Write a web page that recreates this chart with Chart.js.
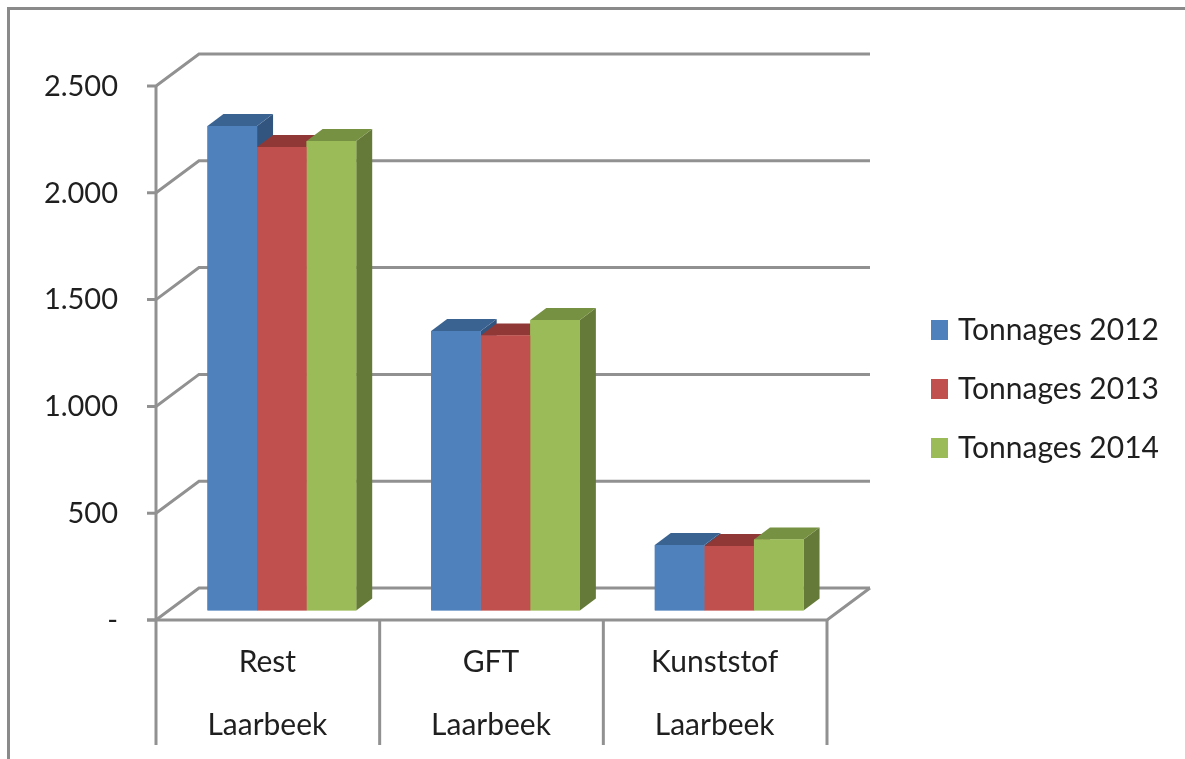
<!DOCTYPE html>
<html lang="nl">
<head>
    <meta charset="UTF-8">
    <script src="https://cdn.jsdelivr.net/npm/chart.js"></script>
    <title>Tonnages Laarbeek</title>
    <style>
        html, body { margin: 0; padding: 0; background: #fff; overflow: hidden; }
        .frame {
            position: absolute;
            left: 7px; top: 7px; right: 0; bottom: 0;
            border-left: 3px solid #8a8a8a;
            border-top: 3px solid #8a8a8a;
        }
        canvas { position: absolute; left: 0; top: 0; }
    </style>
</head>
<body>
<div class="frame"></div>
<canvas id="tonnages" width="1185" height="759"></canvas>

<script>
    const categories = [['Rest', 'Laarbeek'], ['GFT', 'Laarbeek'], ['Kunststof', 'Laarbeek']];
    const tonnages2012 = [2268, 1308, 307];
    const tonnages2013 = [2170, 1287, 302];
    const tonnages2014 = [2198, 1360, 332];
    const yTickLabels = ['-', '500', '1.000', '1.500', '2.000', '2.500'];

    const FONT = 'Lato, "Noto Sans", sans-serif';
    const GRID = '#919191';
    const FRONT = { dx: -14, dy: 9.5 };   // axis plane relative to the bars
    const WALL = { dx: 43, dy: -32 };     // back wall relative to the axis plane
    const BAR = { dx: 16, dy: -12 };      // depth of a bar

    function line(ctx, pts) {
        ctx.beginPath();
        pts.forEach((p, i) => i ? ctx.lineTo(p[0], p[1]) : ctx.moveTo(p[0], p[1]));
        ctx.stroke();
    }
    function poly(ctx, color, pts) {
        ctx.fillStyle = color;
        ctx.beginPath();
        pts.forEach((p, i) => i ? ctx.lineTo(p[0], p[1]) : ctx.moveTo(p[0], p[1]));
        ctx.closePath();
        ctx.fill();
    }

    // walls, floor and axis lines of the fake 3d box, then the bar sides
    const box3d = {
        id: 'box3d',
        beforeDatasetsDraw(chart) {
            const { ctx, chartArea, scales: { y } } = chart;
            const left = chartArea.left + FRONT.dx;
            const right = chartArea.right + FRONT.dx;
            const zero = y.getPixelForValue(0) + FRONT.dy;
            const bottom = 745;
            ctx.save();
            ctx.strokeStyle = GRID;
            ctx.lineWidth = 3;
            y.ticks.forEach(t => {
                const py = y.getPixelForValue(t.value) + FRONT.dy;
                line(ctx, [[left - 9, py], [left, py], [left + WALL.dx, py + WALL.dy], [right + WALL.dx, py + WALL.dy]]);
            });
            line(ctx, [[left - 9, zero], [right, zero], [right + WALL.dx, zero + WALL.dy]]);
            line(ctx, [[left, y.getPixelForValue(2500) + FRONT.dy], [left, bottom]]);
            const step = (right - left) / categories.length;
            categories.forEach((c, i) => {
                const px = left + step * (i + 1);
                line(ctx, [[px, zero], [px, bottom]]);
            });
            ctx.restore();

            // left to right, each front face has to cover the side of the bar before it
            chart.data.datasets.forEach((ds, i) => {
                chart.getDatasetMeta(i).data.forEach(bar => {
                    const l = bar.x - bar.width / 2;
                    const r = bar.x + bar.width / 2;
                    poly(ctx, ds.sideColor, [[r, bar.y], [r + BAR.dx, bar.y + BAR.dy], [r + BAR.dx, bar.base + BAR.dy], [r, bar.base]]);
                    poly(ctx, ds.topColor, [[l, bar.y], [l + BAR.dx, bar.y + BAR.dy], [r + BAR.dx, bar.y + BAR.dy], [r, bar.y]]);
                    bar.draw(ctx);
                });
            });
        },
        afterLayout(chart) {
            const lg = chart.legend;
            lg.left = 907;
            lg.right = 1185;
            lg.top = 286;
            lg.bottom = 500;
        }
    };

    new Chart(document.getElementById('tonnages'), {
        type: 'bar',
        data: {
            labels: categories,
            datasets: [
                { label: 'Tonnages 2012', data: tonnages2012, backgroundColor: '#4f81bd', topColor: '#3b6391', sideColor: '#32557f' },
                { label: 'Tonnages 2013', data: tonnages2013, backgroundColor: '#c0504d', topColor: '#8f3836', sideColor: '#7f2f2d' },
                { label: 'Tonnages 2014', data: tonnages2014, backgroundColor: '#9bbb59', topColor: '#779142', sideColor: '#657a38' }
            ]
        },
        plugins: [box3d],
        options: {
            responsive: false,
            animation: false,
            categoryPercentage: 0.665,
            barPercentage: 1,
            layout: { padding: { top: 76.5, right: 344, left: 0, bottom: 0 } },
            scales: {
                x: {
                    grid: { display: false, drawTicks: false },
                    border: { display: false },
                    afterFit(scale) { scale.height = 148.5; },
                    ticks: {
                        color: '#1f1f1f',
                        font: { family: FONT, size: 30, lineHeight: 2.1 },
                        padding: 20,
                        labelOffset: -14.5,
                        maxRotation: 0
                    }
                },
                y: {
                    min: 0,
                    max: 2500,
                    grid: { display: false, drawTicks: false },
                    border: { display: false },
                    afterFit(scale) { scale.width = 170; },
                    ticks: {
                        stepSize: 500,
                        color: '#1f1f1f',
                        font: { family: FONT, size: 29 },
                        padding: 52,
                        labelOffset: 10,
                        callback: (v, i) => yTickLabels[i]
                    }
                }
            },
            plugins: {
                tooltip: { enabled: false },
                legend: {
                    position: 'chartArea',
                    align: 'start',
                    labels: {
                        color: '#1f1f1f',
                        font: { family: FONT, size: 30 },
                        boxWidth: 7,
                        boxHeight: 10,
                        padding: 29,
                        // thick stroke brings the swatch to size while keeping the text close
                        generateLabels(chart) {
                            return chart.data.datasets.map((ds, i) => ({
                                text: ds.label,
                                fillStyle: ds.backgroundColor,
                                strokeStyle: ds.backgroundColor,
                                lineWidth: 10,
                                fontColor: '#1f1f1f',
                                hidden: false,
                                datasetIndex: i
                            }));
                        }
                    }
                }
            }
        }
    });
</script>
</body>
</html>
